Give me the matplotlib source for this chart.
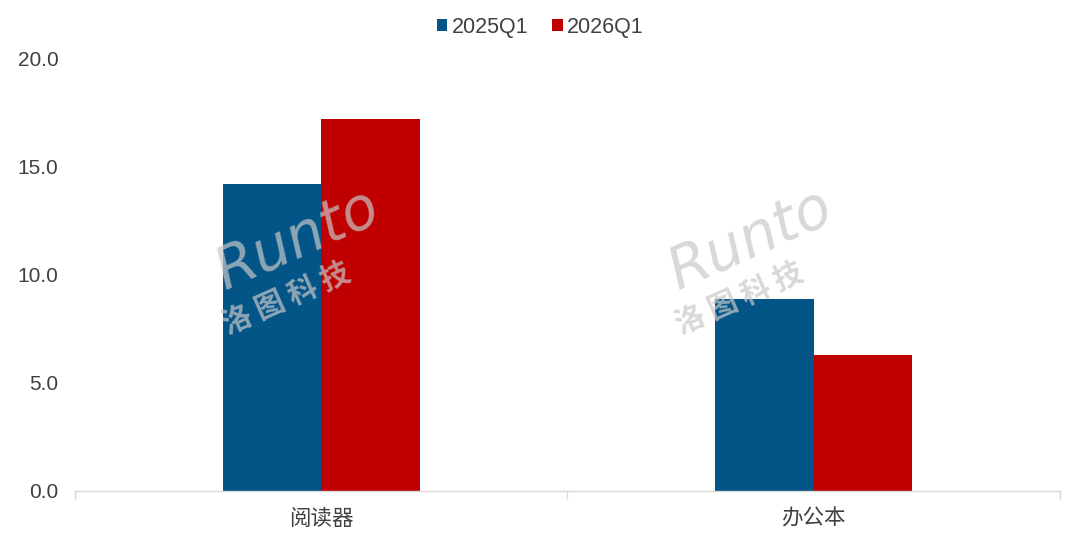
import matplotlib.pyplot as plt
import numpy as np

plt.rcParams['font.family'] = ['Liberation Sans', 'Noto Sans CJK SC', 'DejaVu Sans']

categories = ['阅读器', '办公本']
series_names = ['2025Q1', '2026Q1']
values_2025 = [14.2, 8.9]
values_2026 = [17.2, 6.3]
colors = ['#045587', '#C00000']
yticks = [0, 5, 10, 15, 20]

fig = plt.figure(figsize=(10.8, 5.33), dpi=100)
ax = fig.add_axes([0.0694, 0.0788, 0.912, 0.8106])

x = np.arange(len(categories))
w = 0.2
ax.bar(x - w / 2, values_2025, w, color=colors[0], label=series_names[0], zorder=2)
ax.bar(x + w / 2, values_2026, w, color=colors[1], label=series_names[1], zorder=2)

ax.set_xlim(-0.5, len(categories) - 0.5)
ax.set_ylim(0, 20)
ax.set_yticks(yticks)
ax.set_yticklabels([f'{v:.1f}' for v in yticks], fontsize=15, color='#404040')
ax.tick_params(axis='y', length=0, pad=12)

ax.set_xticks(x)
ax.set_xticklabels(categories, fontsize=15.5, color='#404040',
                   family=['Noto Sans CJK SC', 'DejaVu Sans'])
ax.set_xticks(np.arange(len(categories) + 1) - 0.5, minor=True)
ax.tick_params(axis='x', which='major', length=0, pad=12)
ax.tick_params(axis='x', which='minor', length=6, color='#D9D9D9', width=1)

for s in ['top', 'right', 'left']:
    ax.spines[s].set_visible(False)
ax.spines['bottom'].set_color('#D9D9D9')
ax.spines['bottom'].set_linewidth(1)

# watermark
for cx in [0.19, 0.61]:
    fig.text(cx + 0.085, 0.55, 'Runto', fontsize=42, color='#C8C8C8', alpha=0.7,
             rotation=24, ha='center', va='center', style='italic', family='DejaVu Sans')
    fig.text(cx + 0.075, 0.44, '洛 图 科 技', fontsize=21, color='#C8C8C8', alpha=0.7,
             rotation=24, ha='center', va='center', weight='bold',
             family=['Noto Sans CJK SC', 'DejaVu Sans'])

leg = fig.legend(loc='upper center', bbox_to_anchor=(0.5, 1.005), ncol=2, frameon=False,
                 fontsize=15.5, handlelength=0.5, handleheight=0.5, handletextpad=0.2,
                 columnspacing=1.1)
for t in leg.get_texts():
    t.set_color('#404040')

fig.savefig('out.png', dpi=100)
